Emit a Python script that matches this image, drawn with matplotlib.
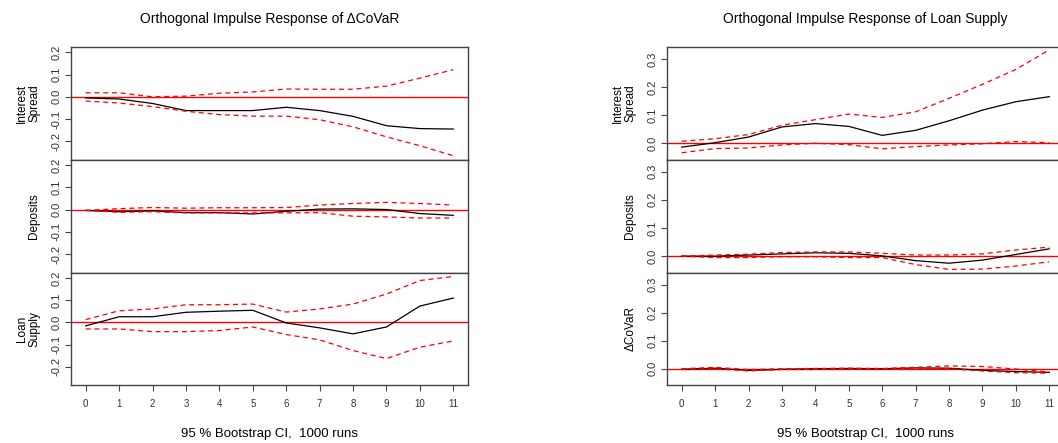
import numpy as np
import matplotlib.pyplot as plt

plt.rcParams['font.family'] = ['Liberation Sans', 'DejaVu Sans']

steps = np.arange(12)

# impulse: dCoVaR -> responses
cov_spread = [-0.005, -0.01, -0.03, -0.062, -0.062, -0.062, -0.047, -0.062, -0.088, -0.13, -0.143, -0.145]
cov_spread_up = [0.018, 0.018, 0.0, 0.003, 0.016, 0.022, 0.035, 0.034, 0.034, 0.048, 0.084, 0.122]
cov_spread_lo = [-0.019, -0.028, -0.044, -0.065, -0.08, -0.087, -0.087, -0.103, -0.135, -0.18, -0.22, -0.265]

cov_dep = [-0.004, -0.01, -0.006, -0.014, -0.014, -0.02, -0.008, 0.002, 0.003, 0.0, -0.018, -0.026]
cov_dep_up = [-0.004, 0.004, 0.009, 0.006, 0.008, 0.008, 0.009, 0.02, 0.027, 0.032, 0.027, 0.02]
cov_dep_lo = [-0.004, -0.012, -0.01, -0.015, -0.015, -0.015, -0.015, -0.014, -0.03, -0.033, -0.038, -0.038]

cov_loan = [-0.016, 0.025, 0.025, 0.045, 0.05, 0.054, -0.003, -0.025, -0.052, -0.021, 0.073, 0.109]
cov_loan_up = [0.012, 0.052, 0.06, 0.079, 0.079, 0.082, 0.046, 0.06, 0.082, 0.127, 0.188, 0.206]
cov_loan_lo = [-0.03, -0.03, -0.042, -0.042, -0.037, -0.021, -0.055, -0.079, -0.127, -0.163, -0.112, -0.084]

# impulse: Loan Supply -> responses
loan_spread = [-0.014, 0.002, 0.022, 0.058, 0.07, 0.06, 0.028, 0.046, 0.08, 0.118, 0.148, 0.166]
loan_spread_up = [0.007, 0.016, 0.031, 0.064, 0.084, 0.104, 0.092, 0.112, 0.16, 0.21, 0.263, 0.333]
loan_spread_lo = [-0.034, -0.019, -0.017, -0.006, 0.0, -0.005, -0.02, -0.012, -0.006, -0.002, 0.006, 0.002]

loan_dep = [0.0, 0.0, 0.004, 0.008, 0.012, 0.01, 0.001, -0.016, -0.025, -0.014, 0.006, 0.026]
loan_dep_up = [0.0, 0.004, 0.007, 0.013, 0.015, 0.015, 0.01, 0.004, 0.004, 0.008, 0.022, 0.032]
loan_dep_lo = [0.0, -0.005, -0.005, -0.002, -0.002, -0.005, -0.005, -0.03, -0.047, -0.046, -0.035, -0.02]

loan_cov = [-0.002, 0.002, -0.006, -0.002, 0.0, 0.001, 0.0, 0.003, 0.002, -0.006, -0.01, -0.013]
loan_cov_up = [0.0, 0.005, -0.003, 0.0, 0.001, 0.002, 0.001, 0.005, 0.01, 0.008, -0.001, -0.012]
loan_cov_lo = [-0.002, 0.0, -0.008, -0.003, -0.002, 0.0, -0.001, 0.001, 0.0, -0.008, -0.014, -0.016]

left_panels = [("Interest\nSpread", cov_spread, cov_spread_up, cov_spread_lo),
               ("Deposits", cov_dep, cov_dep_up, cov_dep_lo),
               ("Loan\nSupply", cov_loan, cov_loan_up, cov_loan_lo)]
right_panels = [("Interest\nSpread", loan_spread, loan_spread_up, loan_spread_lo),
                ("Deposits", loan_dep, loan_dep_up, loan_dep_lo),
                ("\u0394CoVaR", loan_cov, loan_cov_up, loan_cov_lo)]

W, H = 1058, 443
fig = plt.figure(figsize=(W / 100, H / 100), dpi=100)
edges = [47, 159.5, 272.5, 385]
frame = "#444444"


def draw_block(x0, panels, ylim, yticks, title):
    for i, (lab, resp, up, lo) in enumerate(panels):
        top, bot = edges[i], edges[i + 1]
        ax = fig.add_axes([x0 / W, 1 - bot / H, 397 / W, (bot - top) / H])
        ax.axhline(0, color="red", lw=1.0)
        ax.plot(steps, resp, color="black", lw=0.9)
        ax.plot(steps, up, color="red", lw=0.9, ls=(0, (4, 3)))
        ax.plot(steps, lo, color="red", lw=0.9, ls=(0, (4, 3)))
        ax.set_xlim(-0.44, 11.44)
        ax.set_ylim(*ylim)
        ax.set_yticks(yticks)
        ax.set_yticklabels([f"{t:.1f}" for t in yticks], rotation=90, va="center",
                           fontsize=8, color="#333333")
        ax.tick_params(axis="y", length=4, width=0.8, color=frame, pad=3)
        for s in ax.spines.values():
            s.set_color(frame)
            s.set_linewidth(1.0)
        ax.set_ylabel(lab, fontsize=8.5, labelpad=8, linespacing=1.0)
        if i < 2:
            ax.set_xticks([])
        else:
            ax.set_xticks(steps)
            ax.set_xticklabels([str(s) for s in steps], fontsize=7, color="#333333")
            ax.tick_params(axis="x", length=4, width=0.8, color=frame, pad=6)
            ax.set_xlabel("95 % Bootstrap CI,  1000 runs", fontsize=9.5, labelpad=14)
        if i == 0:
            ax.set_title(title, fontsize=10, pad=17)


draw_block(71, left_panels, (-0.282, 0.224), [-0.2, -0.1, 0.0, 0.1, 0.2],
           "Orthogonal Impulse Response of \u0394CoVaR")
draw_block(667, right_panels, (-0.058, 0.343), [0.0, 0.1, 0.2, 0.3],
           "Orthogonal Impulse Response of Loan Supply")

fig.savefig("out.png", dpi=100)
